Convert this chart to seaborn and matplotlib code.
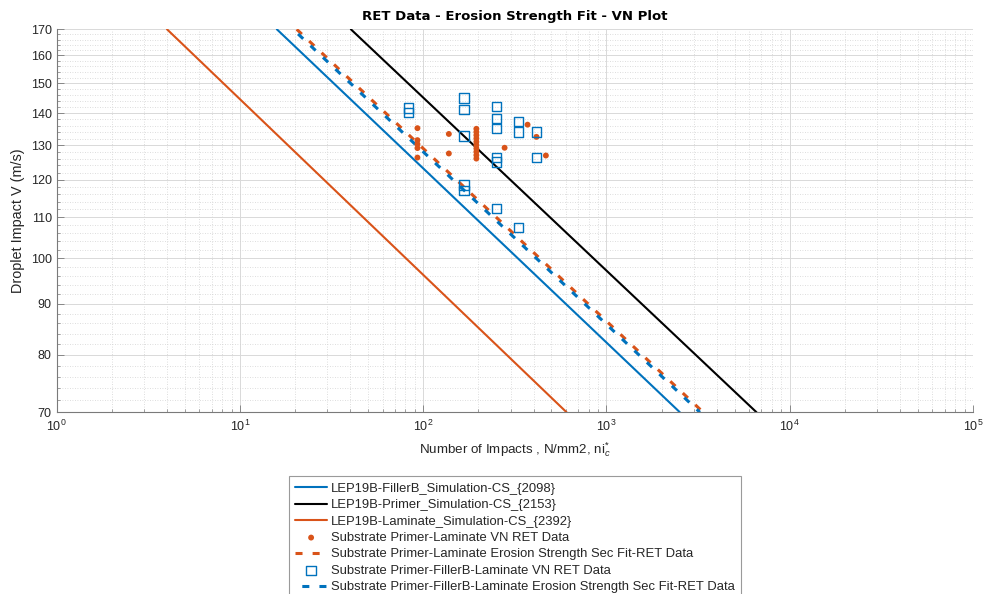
import numpy as np
import pandas as pd
import matplotlib
matplotlib.use("Agg")
import matplotlib.pyplot as plt
import seaborn as sns
from matplotlib.ticker import FixedLocator, NullFormatter, LogLocator

# ---------------- data ----------------
# Fit / simulation lines: velocity limits and the corresponding impacts
line_v = [170, 70]
filler_sim_n = [15.9, 2515]      # LEP19B-FillerB_Simulation-CS_{2098}
primer_sim_n = [40.3, 6590]      # LEP19B-Primer_Simulation-CS_{2153}
laminate_sim_n = [4.0, 606]      # LEP19B-Laminate_Simulation-CS_{2392}
pl_fit_n = [20.4, 3372]          # Primer-Laminate sec fit
pfl_fit_n = [19.5, 3234]         # Primer-FillerB-Laminate sec fit

# RET data: Substrate Primer-Laminate (dots)
pl_n = [93, 93, 93, 93, 93,
        138, 138,
        195, 195, 195, 195, 195, 195, 195, 195, 195, 195,
        278, 371, 415, 467]
pl_v = [135.2, 131.5, 130.3, 129.1, 126.3,
        133.4, 127.5,
        126, 127, 128, 129, 130, 131, 132, 133, 134, 135,
        129.2, 136.3, 132.5, 126.9]

# RET data: Substrate Primer-FillerB-Laminate (squares)
pfl_n = [83, 83,
         167, 167, 167, 167, 167,
         250, 250, 250, 250, 250, 250,
         330, 330, 330,
         415, 415]
pfl_v = [141.7, 140.1,
         145.0, 141.3, 132.8, 118.5, 117.1,
         142.2, 138.2, 135.1, 126.3, 125.0, 112.2,
         137.2, 134.0, 107.4,
         134.0, 126.4]

labels = [
    "LEP19B-FillerB_Simulation-CS_{2098}",
    "LEP19B-Primer_Simulation-CS_{2153}",
    "LEP19B-Laminate_Simulation-CS_{2392}",
    "Substrate Primer-Laminate VN RET Data",
    "Substrate Primer-Laminate Erosion Strength Sec Fit-RET Data",
    "Substrate Primer-FillerB-Laminate VN RET Data",
    "Substrate Primer-FillerB-Laminate Erosion Strength Sec Fit-RET Data",
]
y_ticks = [70, 80, 90, 100, 110, 120, 130, 140, 150, 160, 170]

BLUE = "#0072BD"
ORANGE = "#D95319"
BLACK = "#000000"

# ---------------- style ----------------
sns.set_theme(style="white")
plt.rcParams["font.family"] = ["Liberation Sans", "DejaVu Sans"]
plt.rcParams["mathtext.fontset"] = "custom"
plt.rcParams["mathtext.rm"] = "Liberation Sans"
plt.rcParams["mathtext.it"] = "Liberation Sans:italic"
plt.rcParams["mathtext.bf"] = "Liberation Sans:bold"

fig = plt.figure(figsize=(9.85, 5.94), dpi=100)
ax = fig.add_axes([56.7 / 985, 1 - 412.3 / 594, (973 - 56.7) / 985, (412.3 - 29.3) / 594])
ax.set_xscale("log")
ax.set_yscale("log")

lw = 1.5
dlw = 2.2
sns.lineplot(x=filler_sim_n, y=line_v, ax=ax, color=BLUE, lw=lw, sort=False,
             estimator=None, label=labels[0])
sns.lineplot(x=primer_sim_n, y=line_v, ax=ax, color=BLACK, lw=lw, sort=False,
             estimator=None, label=labels[1])
sns.lineplot(x=laminate_sim_n, y=line_v, ax=ax, color=ORANGE, lw=lw, sort=False,
             estimator=None, label=labels[2])
sns.scatterplot(x=pl_n, y=pl_v, ax=ax, color=ORANGE, s=18, marker="o", edgecolor="none",
                label=labels[3], zorder=4)
sns.lineplot(x=pl_fit_n, y=line_v, ax=ax, color=ORANGE, lw=dlw, sort=False,
             estimator=None, label=labels[4], linestyle=(0, (2.3, 3.3)))
sns.scatterplot(x=pfl_n, y=pfl_v, ax=ax, marker="s", s=44, facecolor="none",
                edgecolor=BLUE, linewidth=1.0, label=labels[5], zorder=4)
sns.lineplot(x=pfl_fit_n, y=line_v, ax=ax, color=BLUE, lw=dlw, sort=False,
             estimator=None, label=labels[6], linestyle=(3.37, (2.3, 3.3)))

# axes limits and ticks
ax.set_xlim(1, 1e5)
ax.set_ylim(70, 170)
ax.xaxis.set_major_locator(LogLocator(base=10, numticks=10))
ax.xaxis.set_minor_locator(LogLocator(base=10, subs=np.arange(2, 10), numticks=100))
ax.xaxis.set_minor_formatter(NullFormatter())
ax.yaxis.set_major_locator(FixedLocator(y_ticks))
ax.yaxis.set_minor_locator(FixedLocator(np.arange(72, 170, 2)))
ax.yaxis.set_minor_formatter(NullFormatter())
ax.set_yticklabels([str(t) for t in y_ticks])

ax.grid(True, which="major", color="#d9d9d9", lw=0.7, linestyle="-")
ax.grid(True, which="minor", color="#d2d2d2", lw=0.6, linestyle=(0, (1, 2)))
ax.set_axisbelow(True)

for side in ["top", "right"]:
    ax.spines[side].set_visible(False)
for side in ["left", "bottom"]:
    ax.spines[side].set_color("#7a7a7a")
    ax.spines[side].set_linewidth(0.8)

ax.tick_params(axis="both", which="both", direction="in", colors="#7a7a7a",
               labelcolor="#262626", labelsize=9, left=True, bottom=True)
ax.tick_params(axis="both", which="major", length=5, width=0.6)
ax.tick_params(axis="both", which="minor", length=2.5, width=0.5)
ax.tick_params(axis="x", which="major", pad=5)

ax.set_xlabel(r"Number of Impacts , N/mm2, ni$_c^{*}$", fontsize=9.6, color="#262626", labelpad=4)
ax.set_ylabel("Droplet Impact V (m/s)", fontsize=10.4, color="#262626", labelpad=4)
ax.set_title("RET Data - Erosion Strength Fit - VN Plot", fontsize=9.5,
             fontweight="bold", fontfamily="DejaVu Sans", color="#000000", pad=7)

# legend below axes
handles, labs = ax.get_legend_handles_labels()
ax.get_legend().remove()
order = [labs.index(l) for l in labels]
leg = fig.legend([handles[i] for i in order], [labs[i] for i in order],
                 loc="upper center", bbox_to_anchor=(515 / 985, 1 - 476 / 594),
                 fontsize=9.4, frameon=True, fancybox=False, framealpha=1,
                 edgecolor="#9a9a9a", handlelength=2.45, handletextpad=0.3,
                 labelspacing=0.33, borderpad=0.5, borderaxespad=0, scatterpoints=1)
leg.get_frame().set_linewidth(0.8)

fig.savefig("out.png", dpi=100)
